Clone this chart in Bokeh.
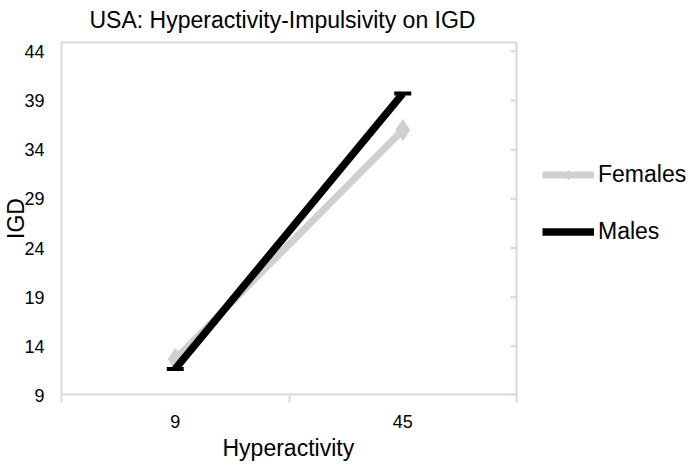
import math
from bokeh.plotting import figure
from bokeh.models import Range1d, FixedTicker, Legend, LegendItem, Title
from bokeh.embed import file_html
from bokeh.resources import INLINE

# ---- data ----
categories = ["9", "45"]
females = [12.7, 36.0]
males = [11.7, 39.7]
y_ticks = [9, 14, 19, 24, 29, 34, 39, 44]
y_min, y_max = 9, 45

title_text = "USA: Hyperactivity-Impulsivity on IGD"
x_label = "Hyperactivity"
y_label = "IGD"

FONT = "Liberation Sans"
AXIS_GREY = "#d9d9d9"
FEMALE_GREY = "#d0d0d0"

# layout (pixels)
W, H = 689, 464
LEFT, TOP, BOTTOM = 61, 40, 69
PLOT_AREA_W = 455                    # width of the boxed plot area
FRAME_W = W - LEFT                   # frame extends to the right edge (room for legend)

n = len(categories)
xs = [i + 0.5 for i in range(n)]
bounds = list(range(n + 1))
x_end = n * FRAME_W / PLOT_AREA_W

p = figure(width=W, height=H, output_backend="svg", toolbar_location=None,
           x_range=Range1d(0, x_end), y_range=Range1d(y_min, y_max),
           min_border_left=LEFT, min_border_right=0, min_border_top=TOP, min_border_bottom=BOTTOM,
           title=title_text)
p.title.text_font = FONT
p.title.text_font_size = "23px"
p.title.text_font_style = "normal"
p.title.text_color = "black"
p.title.align = "left"
p.title.offset = 28
p.title.standoff = 13
p.title.vertical_align = "top"
p.xgrid.visible = False
p.ygrid.visible = False
p.outline_line_color = None

# left y axis
ya = p.yaxis[0]
ya.ticker = FixedTicker(ticks=y_ticks)
ya.major_tick_in = 0
ya.major_tick_out = 0
ya.minor_tick_line_color = None
ya.axis_line_color = AXIS_GREY
ya.axis_line_width = 2
ya.major_label_standoff = 17
ya.major_label_text_font = FONT
ya.major_label_text_font_size = "18px"
ya.major_label_text_color = "black"
ya.axis_label = y_label
ya.axis_label_standoff = -8
ya.axis_label_text_font = FONT
ya.axis_label_text_font_size = "23px"
ya.axis_label_text_font_style = "normal"
ya.axis_label_text_color = "black"

# bottom x axis (line drawn as glyph so it stops at the plot-area edge)
xa = p.xaxis[0]
xa.ticker = FixedTicker(ticks=xs, minor_ticks=bounds)
xa.major_label_overrides = {x: c for x, c in zip(xs, categories)}
xa.major_tick_in = 0
xa.major_tick_out = 0
xa.minor_tick_in = 0
xa.minor_tick_out = 7
xa.minor_tick_line_color = AXIS_GREY
xa.minor_tick_line_width = 2
xa.axis_line_color = None
xa.major_label_standoff = 12
xa.major_label_text_font = FONT
xa.major_label_text_font_size = "18px"
xa.major_label_text_color = "black"

p.add_layout(Title(text=x_label, align="left", offset=161, standoff=4,
                   text_font=FONT, text_font_size="23px", text_font_style="normal",
                   text_color="black"), "below")

# plot-area box: bottom, top, right edges and inward right ticks
p.segment(x0=[bounds[0], bounds[0]], y0=[y_min, y_max], x1=[bounds[-1], bounds[-1]], y1=[y_min, y_max],
          line_color=AXIS_GREY, line_width=4)
p.segment(x0=[bounds[-1]], y0=[y_min], x1=[bounds[-1]], y1=[y_max], line_color=AXIS_GREY, line_width=2)
p.ray(x=[bounds[-1]] * len(y_ticks), y=y_ticks, length=6, angle=math.pi, length_units="screen",
      line_color=AXIS_GREY, line_width=2)

# series
fl = p.line(xs, females, line_color=FEMALE_GREY, line_width=7)
fm = p.scatter(xs, females, marker="diamond", size=21, fill_color=FEMALE_GREY, line_color=FEMALE_GREY)
ml = p.line(xs, males, line_color="black", line_width=7.5)
mm = p.scatter(xs, males, marker="dash", size=17, line_color="black", line_width=4)

legend = Legend(items=[LegendItem(label="Females", renderers=[fl, fm]),
                       LegendItem(label="Males", renderers=[ml])],
                location=(481, 150), orientation="vertical",
                glyph_width=52, glyph_height=25, label_standoff=4, spacing=30,
                padding=0, margin=0, border_line_color=None, background_fill_alpha=0,
                label_text_font=FONT, label_text_font_size="23px", label_text_color="black")
p.add_layout(legend, "center")

open("out.html", "w").write(file_html(p, INLINE))
